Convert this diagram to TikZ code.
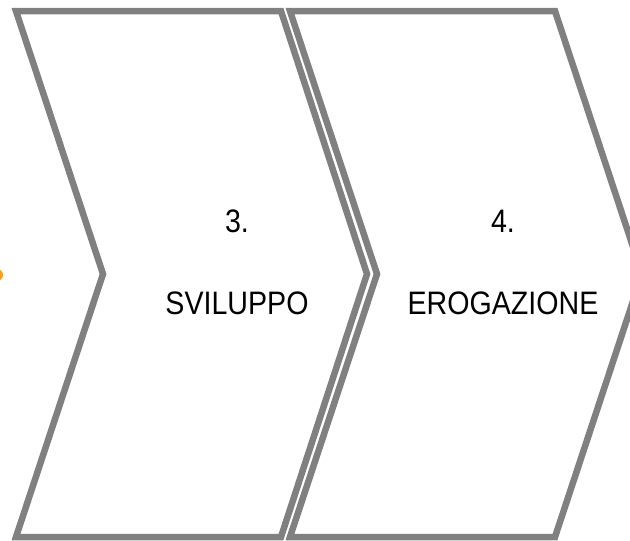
\documentclass[tikz,border=0pt]{standalone}
\usepackage{fontspec}
\setmainfont{Liberation Sans}[FakeStretch=0.88]
\definecolor{phasegray}{HTML}{808080}
\definecolor{dotorange}{HTML}{F7A11A}
\begin{document}
\begin{tikzpicture}[
        x=1pt, y=-1pt,
        phase/.style={draw=phasegray, line width=6.5pt, fill=white, line join=miter, miter limit=10}, % chevron outline
        steptext/.style={font=\fontsize{32.5}{38}\selectfont, anchor=base, inner sep=0pt} % phase text
        ]
        \useasboundingbox (0,0) rectangle (630,541);
        \clip (0,0) rectangle (630,541);

        % Define chevrons
        \draw[phase] (16,11) -- (281,11) -- (367,274) -- (281,537) -- (16,537) -- (103,274) -- cycle;
        \draw[phase] (290,11) -- (555,11) -- (642,274) -- (555,537) -- (290,537) -- (377,274) -- cycle;

        % Define text nodes
        \node (num3) [steptext] at (237,232) {3.};
        \node (sviluppo) [steptext] at (237,314) {SVILUPPO};
        \node (num4) [steptext] at (503,232) {4.};
        \node (erogazione) [steptext] at (503,314) {EROGAZIONE};

        % Edge of previous step
        \fill[dotorange] (-3,275) circle (6);
\end{tikzpicture}
\end{document}
